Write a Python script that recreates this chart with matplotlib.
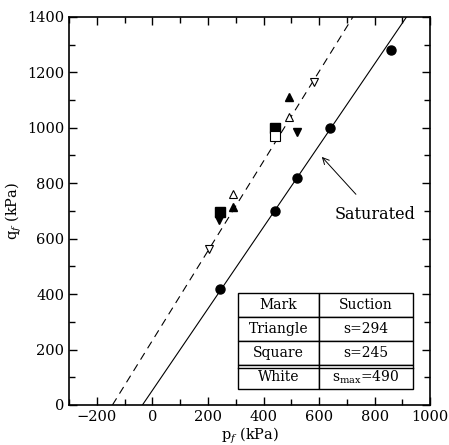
import numpy as np
import matplotlib.pyplot as plt
from matplotlib.ticker import MultipleLocator

plt.rcParams['font.family'] = 'DejaVu Serif'
plt.rcParams['mathtext.fontset'] = 'dejavuserif'

# saturated tests (solid circles)
sat_p = [245, 440, 520, 640, 860]
sat_q = [420, 700, 820, 1000, 1280]

# unsaturated tests: (p, q) per marker
sq_fill_p = [245, 440]
sq_fill_q = [695, 1000]
sq_open_p = [440]
sq_open_q = [970]
tri_up_fill_p = [290, 490]
tri_up_fill_q = [715, 1110]
tri_up_open_p = [290, 490]
tri_up_open_q = [760, 1040]
tri_dn_fill_p = [240, 520]
tri_dn_fill_q = [668, 985]
tri_dn_open_p = [205, 580]
tri_dn_open_q = [563, 1165]

# failure lines: p at q=0 and p at q=1400
sat_line_p = [-36, 915]
unsat_line_p = [-144, 722]
line_q = [0, 1400]

table_rows = [["Mark", "Suction"],
              ["Triangle", "s=294"],
              ["Square", "s=245"],
              ["White", r"s$_{\rm max}$=490"]]

fig = plt.figure(figsize=(4.49, 4.45), dpi=100)
ax = fig.add_axes([0.154, 0.090, 0.804, 0.872])

ax.plot(sat_line_p, line_q, 'k-', lw=0.8)
ax.plot(unsat_line_p, line_q, 'k--', lw=0.8, dashes=(7, 5))

ax.plot(sat_p, sat_q, 'ko', ms=6.5)
ax.plot(sq_fill_p, sq_fill_q, 'ks', ms=6.5)
ax.plot(sq_open_p, sq_open_q, 's', ms=6.5, mfc='white', mec='k', mew=0.8)
ax.plot(tri_up_fill_p, tri_up_fill_q, 'k^', ms=6)
ax.plot(tri_up_open_p, tri_up_open_q, '^', ms=6, mfc='white', mec='k', mew=0.8)
ax.plot(tri_dn_fill_p, tri_dn_fill_q, 'kv', ms=6)
ax.plot(tri_dn_open_p, tri_dn_open_q, 'v', ms=6, mfc='white', mec='k', mew=0.8)

ax.annotate("Saturated", xy=(610, 895), xytext=(800, 686),
            ha='center', va='center', fontsize=11.5,
            arrowprops=dict(arrowstyle='->', lw=0.7, color='k',
                            shrinkA=9, shrinkB=0))

tb = ax.table(cellText=table_rows, cellLoc='center', colWidths=[0.463, 0.537],
              bbox=[0.468, 0.041, 0.484, 0.248])
tb.auto_set_font_size(False)
for (r, c), cell in tb.get_celld().items():
    cell.set_linewidth(1.0)
    cell.get_text().set_fontsize(10)
# double rule above the last row
ax.plot([0.468, 0.952], [0.041 + 0.248 * 0.25 - 0.008] * 2, 'k-', lw=1.0,
        transform=ax.transAxes, zorder=5)

ax.set_xlim(-300, 1000)
ax.set_ylim(0, 1400)
ax.xaxis.set_major_locator(MultipleLocator(200))
ax.xaxis.set_minor_locator(MultipleLocator(100))
ax.yaxis.set_major_locator(MultipleLocator(200))
ax.yaxis.set_minor_locator(MultipleLocator(100))
ax.tick_params(which='both', direction='in', top=True, right=True,
               labelsize=10.5, width=1.0)
ax.tick_params(which='major', length=6)
ax.tick_params(which='minor', length=4)
for s in ax.spines.values():
    s.set_linewidth(1.2)

ax.set_xlabel(r"p$_f$ (kPa)", fontsize=10.5, labelpad=1)
ax.set_ylabel(r"q$_f$ (kPa)", fontsize=10.5, labelpad=2)

fig.savefig("out.png", dpi=100)
